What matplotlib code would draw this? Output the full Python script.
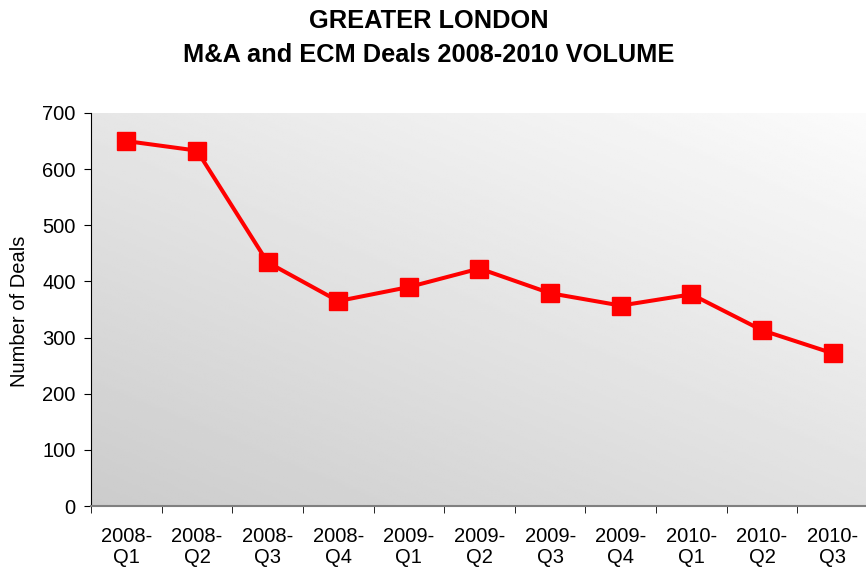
import matplotlib.pyplot as plt
import numpy as np

plt.rcParams['font.family'] = ['Liberation Sans', 'DejaVu Sans']

quarters = ["2008-\nQ1", "2008-\nQ2", "2008-\nQ3", "2008-\nQ4",
            "2009-\nQ1", "2009-\nQ2", "2009-\nQ3", "2009-\nQ4",
            "2010-\nQ1", "2010-\nQ2", "2010-\nQ3"]
deals = [650, 633, 434, 365, 390, 423, 379, 357, 377, 313, 272]

fig = plt.figure(figsize=(8.66, 5.74), dpi=100)
ax = fig.add_axes([91 / 866, 68 / 574, 777 / 866, 393 / 574])

x = np.arange(len(quarters))
ax.set_xlim(-0.5, len(quarters) - 0.5)
ax.set_ylim(0, 700)

# diagonal gray -> white gradient for the plot area
gx, gy = np.meshgrid(np.linspace(0, 1, 200), np.linspace(0, 1, 200))
grad = (gx * 0.45 + gy * 0.55)
ax.imshow(grad, extent=[-0.5, len(quarters) - 0.5, 0, 700], origin='lower',
          cmap='gray', vmin=-4.3, vmax=1.08, aspect='auto', zorder=0)

ax.plot(x, deals, color='#ff0000', linewidth=2.9, marker='s',
        markersize=13, markerfacecolor='#ff0000', markeredgecolor='#ff0000', zorder=3)

ax.set_yticks(range(0, 701, 100))
ax.set_xticks(x)
ax.set_xticklabels(quarters, fontsize=14.5, linespacing=1.15)
ax.set_xticks(np.arange(-0.5, len(quarters), 1), minor=True)
ax.tick_params(axis='x', which='major', length=0, pad=15)
ax.tick_params(axis='x', which='minor', length=5, color='black')
ax.tick_params(axis='y', labelsize=14.5, length=5, direction='out', pad=6)

ax.spines['top'].set_visible(False)
ax.spines['right'].set_visible(False)
ax.spines['bottom'].set_color('#808080')
ax.spines['bottom'].set_linewidth(1.5)
ax.spines['left'].set_color('black')

fig.text(19.5 / 866, 0.458, "Number of Deals", rotation=90,
         ha='center', va='center', fontsize=14.5)

fig.text(0.495, 0.9507, "GREATER LONDON", ha='center', va='baseline',
         fontsize=18.3, fontweight='bold')
fig.text(0.495, 0.8925, "M&A and ECM Deals 2008-2010 VOLUME", ha='center',
         va='baseline', fontsize=18.3, fontweight='bold')

plt.savefig("out.png", dpi=100)
